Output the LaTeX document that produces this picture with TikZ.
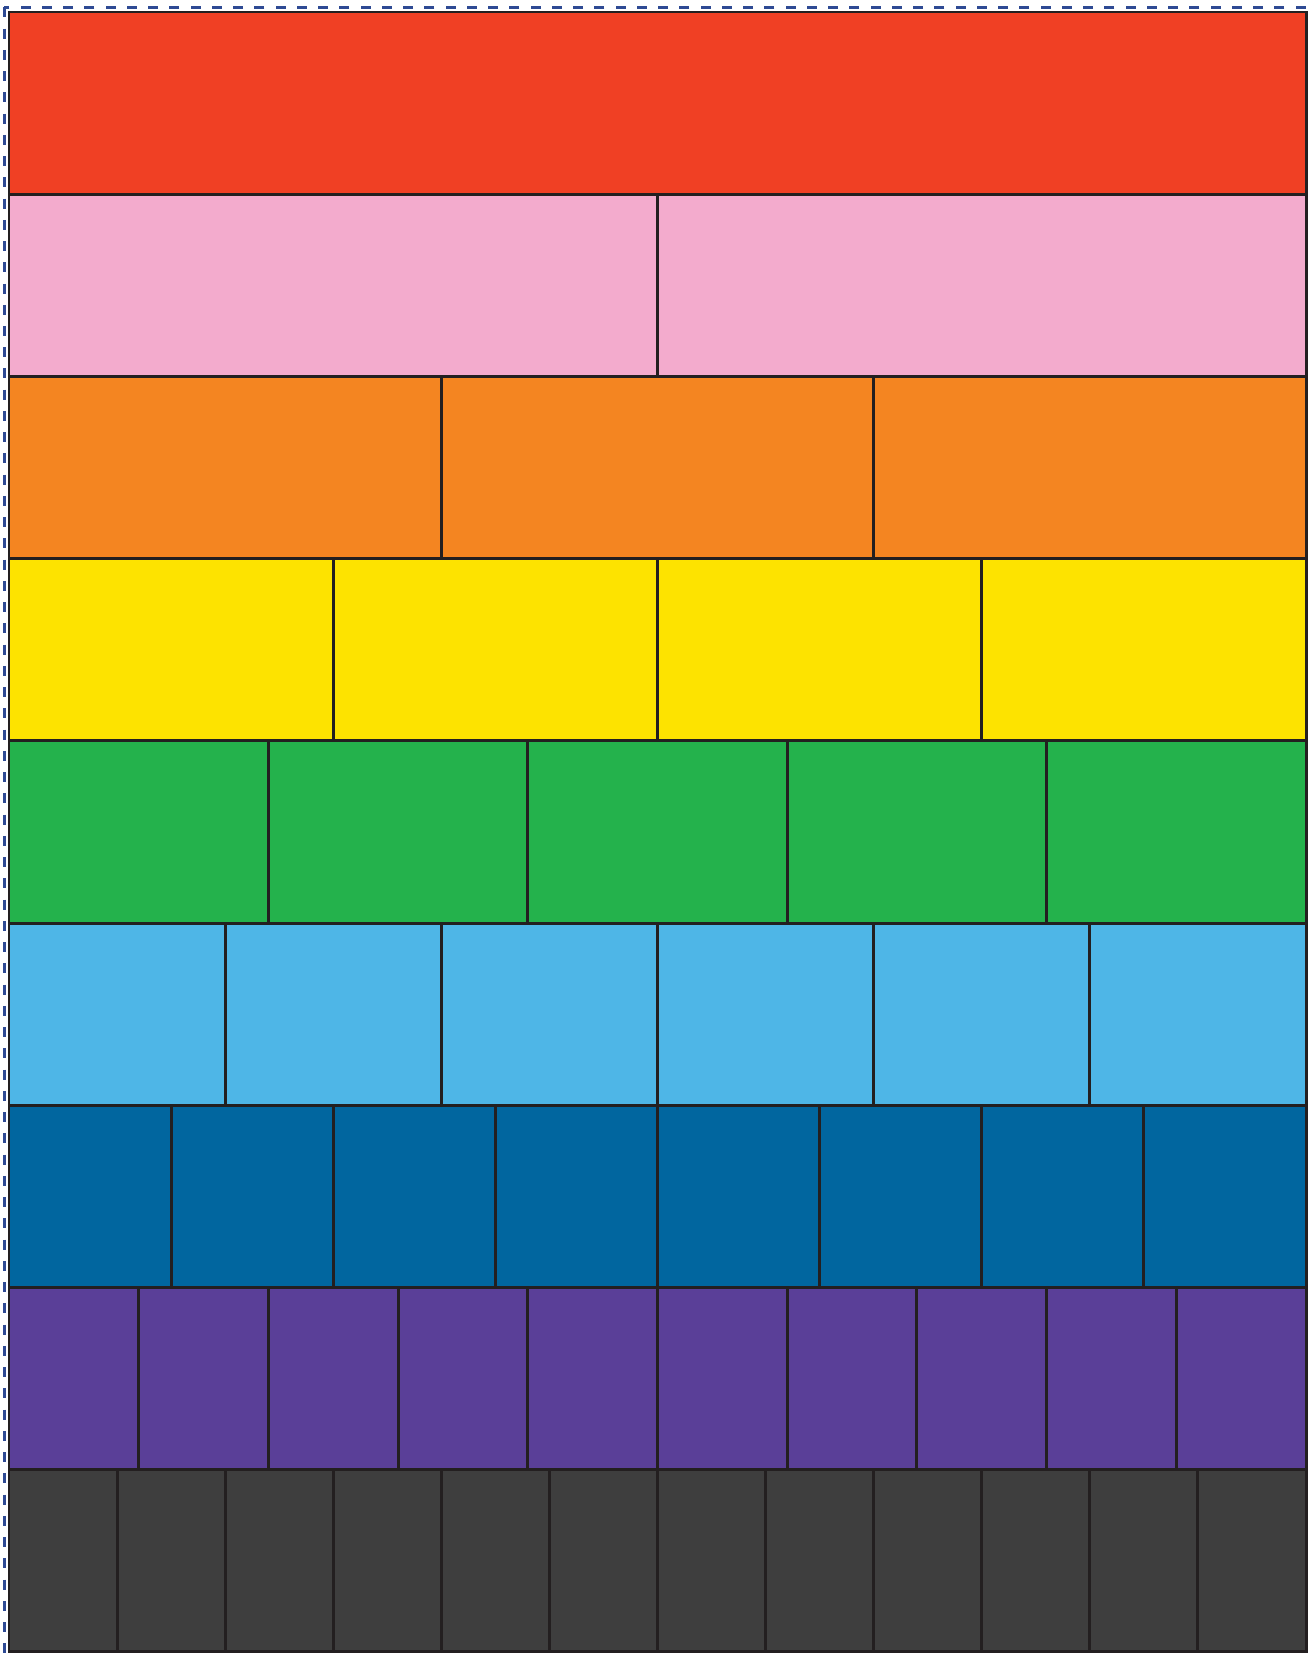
\documentclass[tikz,border=0pt]{standalone}
\definecolor{wallred}{HTML}{F04024}
\definecolor{wallpink}{HTML}{F3ABCD}
\definecolor{wallorange}{HTML}{F48521}
\definecolor{wallyellow}{HTML}{FDE300}
\definecolor{wallgreen}{HTML}{24B24C}
\definecolor{wallsky}{HTML}{4EB6E7}
\definecolor{wallblue}{HTML}{01669F}
\definecolor{wallpurple}{HTML}{5A3F98}
\definecolor{wallgray}{HTML}{3E3E3E}
\definecolor{walledge}{HTML}{231F20}
\definecolor{cutline}{HTML}{2E4A94}
\begin{document}
\begin{tikzpicture}[x=0.02cm, y=-0.02cm,
  piece/.style={draw=walledge, line width=1.7pt},
  cutborder/.style={draw=cutline, line width=1.5pt, dash pattern=on 0.2cm off 0.225cm}]
\useasboundingbox (0,0) rectangle (1309,1654);
\clip (0,0) rectangle (1309,1654);
\draw[cutborder] (4.3,7.3) rectangle (1316,1662);
% one row per fraction: pieces/colour
\foreach \n/\c [count=\r from 0] in {1/wallred, 2/wallpink, 3/wallorange,
    4/wallyellow, 5/wallgreen, 6/wallsky, 8/wallblue, 10/wallpurple, 12/wallgray} {
  \foreach \k in {1,...,\n} {
    \draw[piece, fill=\c] ({9+(\k-1)*1297/\n}, {12+\r*182.2}) rectangle ++(1297/\n, 182.2);
  }
}
\end{tikzpicture}
\end{document}
